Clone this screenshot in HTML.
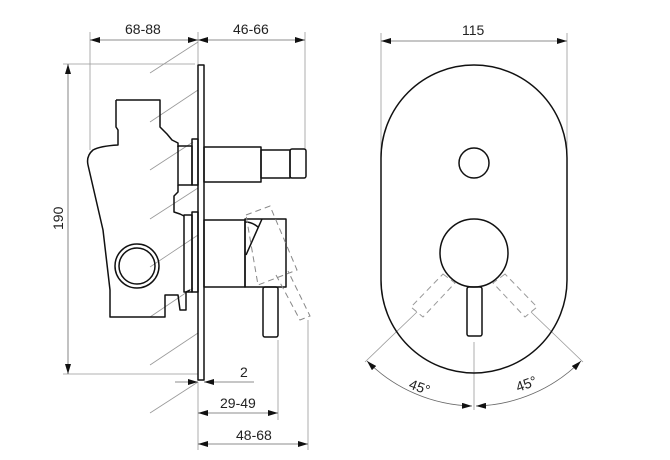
<!DOCTYPE html>
<html><head><meta charset="utf-8"><style>
html,body{margin:0;padding:0;background:#fff;}
svg{display:block;}
text{font-family:"Liberation Sans",Arial,sans-serif;font-size:14px;fill:#222;}
</style></head><body>
<svg width="670" height="460" viewBox="0 0 670 460" xmlns="http://www.w3.org/2000/svg">
<defs>
<marker id="a" viewBox="0 0 10 6" refX="10" refY="3" markerWidth="10" markerHeight="6" orient="auto-start-reverse" markerUnits="userSpaceOnUse"><path d="M0,0 L10,3 L0,6z" fill="#111"/></marker>
</defs>
<g stroke="#999" stroke-width="0.8" fill="none">
<line x1="90" y1="32" x2="90" y2="150"/>
<line x1="198" y1="32" x2="198" y2="64"/>
<line x1="305" y1="32" x2="305" y2="150"/>
<line x1="63" y1="64" x2="195" y2="64"/>
<line x1="63" y1="374" x2="198" y2="374"/>
<line x1="198" y1="382" x2="198" y2="450"/>
<line x1="278" y1="340" x2="278" y2="420"/>
<line x1="308" y1="320" x2="308" y2="450"/>
<line x1="381" y1="33" x2="381" y2="150"/>
<line x1="567" y1="33" x2="567" y2="150"/>
<line x1="150" y1="73" x2="198" y2="42"/>
<line x1="150" y1="122" x2="198" y2="90"/>
<line x1="150" y1="170" x2="193" y2="142"/>
<line x1="150" y1="219" x2="198" y2="188"/>
<line x1="150" y1="267" x2="198" y2="235"/>
<line x1="150" y1="317" x2="193" y2="288"/>
<line x1="150" y1="365" x2="198" y2="333"/>
<line x1="150" y1="413" x2="198" y2="382"/>
<line x1="474" y1="342" x2="474" y2="410"/>
<line x1="417" y1="312" x2="365" y2="362"/>
<line x1="531" y1="312" x2="583" y2="362"/>
</g>
<g stroke="#666" stroke-width="0.8" fill="none">
<line x1="90" y1="40" x2="198" y2="40" marker-start="url(#a)" marker-end="url(#a)"/>
<line x1="198" y1="40" x2="305" y2="40" marker-start="url(#a)" marker-end="url(#a)"/>
<line x1="68" y1="64" x2="68" y2="374" marker-start="url(#a)" marker-end="url(#a)"/>
<line x1="175" y1="382" x2="198" y2="382" marker-end="url(#a)"/>
<line x1="254" y1="382" x2="204" y2="382" marker-end="url(#a)"/>
<line x1="198" y1="413" x2="278" y2="413" marker-start="url(#a)" marker-end="url(#a)"/>
<line x1="198" y1="444" x2="308" y2="444" marker-start="url(#a)" marker-end="url(#a)"/>
<line x1="381" y1="41" x2="567" y2="41" marker-start="url(#a)" marker-end="url(#a)"/>
<path d="M367,361 A153,153 0 0 0 472,406" marker-start="url(#a)" marker-end="url(#a)"/>
<path d="M581,361 A153,153 0 0 1 476,406" marker-start="url(#a)" marker-end="url(#a)"/>
</g>
<text x="125" y="34">68-88</text>
<text x="233" y="34">46-66</text>
<text x="462" y="35">115</text>
<text x="240" y="377">2</text>
<text x="220" y="408">29-49</text>
<text x="236" y="440">48-68</text>
<text transform="translate(63,230) rotate(-90)">190</text>
<text transform="translate(408,388) rotate(20)">45°</text>
<text transform="translate(518,392) rotate(-20)">45°</text>
<g stroke="#111" stroke-width="1.5" fill="none" stroke-linejoin="round">
<rect x="198" y="65" width="6" height="315"/>
<path d="M116,100 L160,100 L160,127 L167,134 L172,140 L178,143 L178,147 M116,100 L116,127 L118,130 L118,145 Q100,146 93,150 Q86,156 88,165 L103,230 L110,290 L110,317 L165,317 L165,295 L178,295 L180,310 L186,310 L186,292 L190,290"/>
<path d="M178,185 L178,192 L174,196 L174,212 L180,214 L184,216"/>
<rect x="178" y="146" width="14" height="39"/>
<rect x="192" y="139" width="6" height="46"/>
<rect x="184" y="215" width="8" height="77"/>
<rect x="192" y="212" width="6" height="80"/>
<circle cx="137" cy="266" r="22"/>
<circle cx="137" cy="266" r="18"/>
<rect x="204" y="147" width="57" height="35"/>
<rect x="261" y="150" width="29" height="28"/>
<rect x="290" y="149" width="16" height="29" rx="2"/>
<rect x="204" y="220" width="41" height="67"/>
<rect x="245" y="219" width="41" height="68"/>
<path d="M262,219 L246,255 M245,222 Q252,222 258,227"/>
<rect x="263" y="287" width="15" height="50" rx="2"/>
</g>
<g stroke="#888" stroke-width="1" fill="none" stroke-dasharray="6,4">
<path d="M246,215 L270,206 L297,270 L258,285 Z"/>
<path d="M276,275 L300,320 L310,316 L288,271"/>
</g>
<g stroke="#111" stroke-width="1.5" fill="none">
<path d="M381,158 A93,93 0 0 1 567,158 L567,280 A93,93 0 0 1 381,280 Z"/>
<circle cx="474" cy="163" r="15"/>
<circle cx="474" cy="253" r="34"/>
<rect x="467" y="287" width="15" height="49" rx="2"/>
</g>
<g stroke="#999" stroke-width="1" fill="none" stroke-dasharray="6,4">
<path d="M443,274 L455,283 L423,317 L411,307 Z"/>
<path d="M505,274 L493,283 L525,317 L537,307 Z"/>
</g>
</svg>
</body></html>
